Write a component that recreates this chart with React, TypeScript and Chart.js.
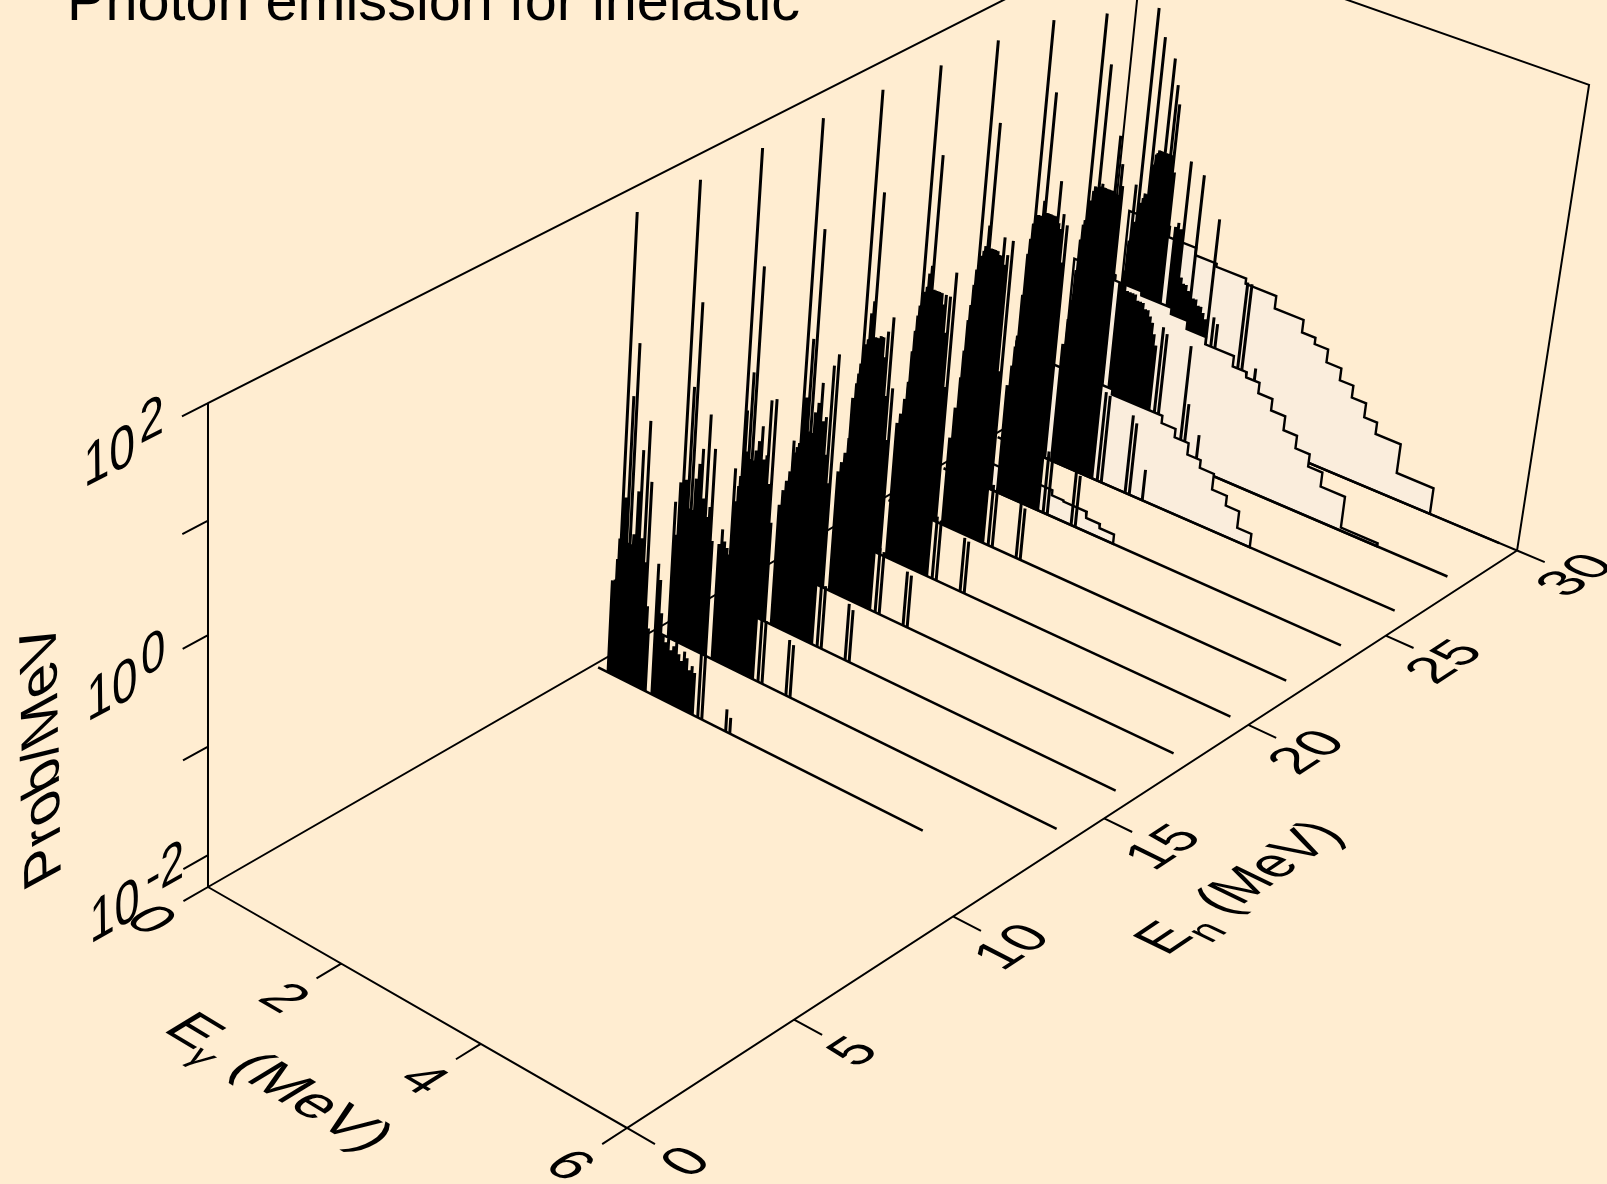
import React, { useEffect, useRef } from "react";
import { Chart, registerables } from "chart.js";

Chart.register(...registerables);

const W_PX = 1607;
const H_PX = 1184;
const BG = "#FFEDD1";
const PALE = "#FAEDDC";

// Incident neutron energies (MeV) of the waterfall traces, front to back
const incidentEnergies = [12, 14, 16, 18, 20, 22, 24, 26, 28, 30];
const baselineEnd = [4.76, 5.76, 5.76, 5.76, 5.76, 5.76, 5.76, 5.76, 5.76, 5.76];
const floorLog = -2.3;

// Photon lines, low group (MeV)
const lowLines = [0.22, 0.24, 0.26, 0.28, 0.3, 0.32, 0.34, 0.36, 0.38, 0.4, 0.43, 0.45, 0.48, 0.5, 0.52, 0.54, 0.56, 0.58, 0.6, 0.62, 0.64, 0.66, 0.68, 0.7, 0.72, 0.75, 0.78];
const lowLog12 = [-1.42, -1.6, -1.4, -1.2, -1.0, 1.95, -0.8, -0.6, -1.0, 0.34, -1.0, 0.83, -1.0, -0.9, -1.05, -0.49, -1.05, -0.1, -1.1, -0.9, -1.2, 0.19, -1.3, -1.1, -0.35, -1.5, -1.7];
const lowLog14 = [-1.0, -1.4, -1.3, -0.8, -1.2, 1.95, -1.0, -0.75, -1.0, 0.12, -1.0, 0.9, -1.0, -0.7, -1.0, -0.55, -1.05, -0.4, -1.05, -0.85, -1.1, -0.06, -1.15, -1.0, -0.9, -0.35, -1.2];
const lowLog16 = [-1.0, -1.4, -1.3, -1.15, -1.05, 1.95, -0.42, -0.8, -0.9, -0.05, -0.85, 0.93, -0.85, -0.75, -0.9, -0.65, -0.95, -0.5, -1.0, -0.8, -1.1, -0.75, -0.23, -1.2, -1.0, -0.2, -1.35];
const lowLog18 = [-1.05, -1.25, -1.15, -1.1, -1.05, 1.94, -0.95, -0.6, -0.9, -0.04, -0.9, 0.98, -0.9, -0.7, -0.85, -0.6, -0.8, -0.4, -0.77, -0.75, -0.95, -0.7, -1.05, -1.15, -0.2, -1.3, -0.08];
const lowLog20 = [-0.95, -0.95, -0.8, -0.7, -0.6, 1.92, -0.45, -0.4, -0.35, -0.1, 0.02, 1.03, -0.3, -0.3, -0.3, -0.3, -0.27, -0.27, -0.27, -0.45, -0.6, -0.2, -0.8, -0.95, -0.05, -1.2, -0.7];
const lowLog22 = [-1.1, -0.8, -0.6, -0.45, -0.35, 1.87, -0.25, -0.2, -0.15, -0.02, 0.06, 1.09, -0.15, -0.15, -0.15, -0.15, -0.15, -0.15, -0.15, -0.25, -0.35, -0.15, -0.5, -0.7, -0.15, -1.0, 0.09];
const lowLog24 = [-1.1, -0.8, -0.65, -0.45, -0.3, 1.83, -0.2, -0.15, -0.1, -0.05, 0.15, 1.11, -0.05, -0.05, -0.05, -0.05, -0.05, -0.05, -0.08, -0.08, -0.1, 0.1, -0.15, -0.3, -0.05, -1.15, 0.1];
const lowLog26 = [-1.3, -0.85, -0.45, -0.3, -0.15, 1.75, -0.1, -0.05, -0.05, -0.05, 0.1, 1.12, 0.0, 0.0, 0.0, 0.0, 0.0, 0.0, 0.0, -0.05, 0.34, -0.05, -0.1, -0.1, 0.05, -0.4, -0.04];
const lowLog28 = [-1.2, -0.9, -0.6, -0.45, -0.4, 1.55, -0.2, -0.22, -0.1, -0.05, -0.05, 1.11, -0.03, 0.0, -0.03, -0.03, -0.03, -0.03, -0.03, -0.03, -0.03, -0.03, 0.5, -0.05, -0.05, 0.25, 0.05];
const lowLog30 = [-1.2, -0.9, -0.35, -0.85, -0.7, 1.34, -0.7, -0.5, -0.45, -0.4, -0.4, 1.1, -0.1, 0.0, 0.02, 0.05, 0.05, 0.05, 0.05, 0.94, 0.05, 0.05, 0.05, 0.71, 0.05, 0.54, -0.1];
const lowLogs = [lowLog12, lowLog14, lowLog16, lowLog18, lowLog20, lowLog22, lowLog24, lowLog26, lowLog28, lowLog30];

// Photon lines, middle group (MeV)
const midLines = [0.88, 0.92, 0.96, 1.0, 1.04, 1.08, 1.12, 1.16, 1.2, 1.24, 1.28, 1.32, 1.36, 1.4, 1.44, 1.48];
const midLog12 = [-1.06, -1.2, -1.5, -1.7, -1.75, -1.7, -1.8, -1.75, -1.7, -1.8, -1.85, -1.75, -1.8, -1.9, -1.85, -1.9];
const midLog14 = [-1.2, -1.05, -1.15, -1.2, -1.25, -1.3, -1.3, -1.35, -1.35, -1.4, -1.4, -1.45, -1.45, -1.5, -1.5, -1.55];
const midLog16 = [-1.15, -1.0, -0.9, -0.8, -0.65, -0.55, -0.65, -0.7, -0.75, -0.8, -0.85, -0.9, -0.95, -1.0, -1.05, -1.15];
const midLog18 = [-1.15, -1.05, -0.95, -0.8, -0.65, -0.45, -0.35, -0.25, -0.3, -0.4, -0.45, -0.5, -0.6, -0.7, -0.8, -0.9];
const midLog20 = [-1.0, -0.9, -0.75, -0.6, -0.45, -0.25, -0.15, -0.1, -0.1, -0.25, -0.35, -0.45, -0.55, -0.65, -0.75, -0.85];
const midLog22 = [-1.45, -1.15, -0.85, -0.6, -0.4, -0.2, -0.1, 0.05, 0.1, -0.05, -0.2, -0.3, -0.45, -0.55, -0.65, -0.8];
const midLog24 = [-1.25, -1.05, -0.75, -0.5, -0.2, 0.05, 0.25, 0.0, -0.1, -0.2, -0.3, -0.4, -0.5, -0.6, -0.7, -0.85];
const midLog26 = [-1.15, -0.9, -0.65, -0.4, -0.15, -0.05, -0.1, -0.15, -0.2, -0.3, -0.4, -0.5, -0.6, -0.7, -0.8, -0.95];
const midLog28 = [-0.85, -0.8, -0.85, -0.9, -0.9, -0.9, -0.9, -0.95, -0.95, -0.95, -1.0, -1.0, -1.05, -1.1, -1.2, -1.3];
const midLog30 = [-0.6, -0.55, -0.6, 0.06, -1.05, -1.1, -1.1, -1.15, -0.02, -1.2, -1.2, -1.25, -1.25, -1.3, -1.35, -0.37];
const midLogs = [midLog12, midLog14, midLog16, midLog18, midLog20, midLog22, midLog24, midLog26, midLog28, midLog30];

// Photon lines, isolated high group (MeV); null = no line in that trace
const highLines = [1.56, 1.62, 1.97, 2.03, 2.22];
const highLog12 = [-1.65, -1.7, -2.09, -2.15, null];
const highLog14 = [-1.65, -1.7, -1.77, -1.8, null];
const highLog16 = [-1.67, -1.7, -1.76, -1.8, null];
const highLog18 = [-1.68, -1.7, -1.78, -1.8, null];
const highLog20 = [-1.7, -1.72, -1.78, -1.8, null];
const highLog22 = [-1.71, -1.73, -1.77, -1.8, null];
const highLog24 = [-1.7, -1.72, -1.78, -1.8, null];
const highLog26 = [-1.43, -1.45, -1.54, -1.6, -2.0];
const highLog28 = [-1.1, -1.15, -1.17, -1.72, -1.97];
const highLog30 = [-1.3, -1.35, -0.85, -0.85, -1.62];
const highLogs = [highLog12, highLog14, highLog16, highLog18, highLog20, highLog22, highLog24, highLog26, highLog28, highLog30];

// Continuum histograms: bin edges (MeV) and log10(prob/MeV) per bin
const contEdges24 = [0.2, 1.66, 1.83, 2.17, 2.37, 2.58];
const contLog24 = [-2.05, -2.1, -2.11, -2.17, -2.21];
const contEdges26 = [0.2, 1.64, 2.37, 2.57, 2.77, 2.96, 3.16, 3.37, 3.56, 3.76];
const contLog26 = [-1.38, -1.43, -1.5, -1.58, -1.69, -1.764, -1.916, -2.01, -2.17];
const contEdges28 = [0.2, 0.81, 1.2, 1.64, 1.88, 2.16, 2.57, 2.77, 2.96, 3.16, 3.36, 3.55, 3.75, 3.95, 4.29, 4.8];
const contLog28 = [-0.8, -0.85, -0.89, -0.95, -1.03, -1.1, -1.2, -1.25, -1.35, -1.46, -1.594, -1.715, -1.834, -1.97, -2.27];
const contEdges30 = [0.2, 0.8, 1.2, 1.51, 1.94, 2.38, 2.79, 2.98, 3.17, 3.38, 3.57, 3.77, 3.95, 4.3, 4.81];
const contLog30 = [-0.62, -0.72, -0.79, -0.82, -0.87, -0.99, -1.11, -1.17, -1.295, -1.41, -1.524, -1.66, -1.77, -2.05];
const continua: Record<number, { edges: number[]; logs: number[] }> = {
  24: { edges: contEdges24, logs: contLog24 },
  26: { edges: contEdges26, logs: contLog26 },
  28: { edges: contEdges28, logs: contLog28 },
  30: { edges: contEdges30, logs: contLog30 },
};

// Axis ticks
const enTicks = [0, 5, 10, 15, 20, 25, 30];
const egTicks = [0, 2, 4, 6];
const zMajor = [-2, 0, 2];
const zMinor = [-1, 1];
const zSup = ["-2", "0", "2"];
const EN_MAX = 30;
const EG_MAX = 6;
const Z_MAX = 2;

// View: homogeneous projection of (En, Egamma, log10 P)
function project(En: number, Eg: number, lg: number) {
  const u = En / 30;
  const v = Eg / 6;
  const s = lg - floorLog;
  const w = 1 + 0.1454 * u - 0.0679 * v - 0.01307 * s;
  return {
    x: (208 + 1050.2 * u + 376.4 * v - 2.72 * s) / w,
    y: (887 - 458.2 * u + 164.4 * v - 117.8 * s) / w,
  };
}

const GAP = { x: NaN, y: NaN };
type P3 = [number, number, number];
function segs(list: P3[][]) {
  const out: { x: number; y: number }[] = [];
  list.forEach((seg) => {
    seg.forEach((p) => out.push(project(p[0], p[1], p[2])));
    out.push(GAP);
  });
  out.pop();
  return out;
}

function lineSet(data: any, width: number) {
  return { data, showLine: true, borderColor: "#000", borderWidth: width, pointRadius: 0, pointHitRadius: 0, tension: 0, fill: false, borderCapStyle: "butt", borderJoinStyle: "miter" };
}

function buildDatasets() {
  const sets: any[] = [];
  incidentEnergies.forEach((En, i) => {
    const spikes: P3[][] = [];
    const add = (es: number[], ls: (number | null)[]) =>
      es.forEach((e, k) => {
        const l = ls[k];
        if (l !== null && l !== undefined) spikes.push([[En, e, floorLog], [En, e, l]]);
      });
    add(lowLines, lowLogs[i]);
    add(midLines, midLogs[i]);
    add(highLines, highLogs[i]);
    sets.push(lineSet(segs([[[En, 0.07, floorLog], [En, baselineEnd[i], floorLog]]]), 2.5));
    sets.push(lineSet(segs(spikes), 3));
    const c = continua[En];
    if (c) {
      const poly: P3[] = [[En, c.edges[0], floorLog]];
      c.logs.forEach((l, k) => {
        poly.push([En, c.edges[k], l]);
        poly.push([En, c.edges[k + 1], l]);
      });
      poly.push([En, c.edges[c.edges.length - 1], floorLog]);
      poly.push([En, c.edges[0], floorLog]);
      sets.push({
        ...lineSet(poly.map((p) => project(p[0], p[1], p[2])), 2.4),
        fill: "shape",
        backgroundColor: PALE,
      });
    }
  });
  const box: P3[][] = [
    [[0, 0, floorLog], [0, EG_MAX, floorLog], [EN_MAX, EG_MAX, floorLog], [EN_MAX, 0, floorLog], [0, 0, floorLog]],
    [[0, 0, floorLog], [0, 0, Z_MAX], [EN_MAX, 0, Z_MAX], [EN_MAX, EG_MAX, Z_MAX], [EN_MAX, EG_MAX, floorLog]],
    [[EN_MAX, 0, Z_MAX], [EN_MAX, 0, floorLog]],
  ];
  const ticks: P3[][] = [];
  enTicks.forEach((e) => ticks.push([[e, EG_MAX, floorLog], [e, EG_MAX * 1.062, floorLog]]));
  egTicks.forEach((g) => ticks.push([[0, g, floorLog], [-0.72, g, floorLog]]));
  zMajor.concat(zMinor).forEach((z) => ticks.push([[0, 0, z], [-0.72, 0, z]]));
  sets.push(lineSet(segs(box.concat(ticks)), 2));
  return sets;
}

function unit(a: { x: number; y: number }, b: { x: number; y: number }) {
  const dx = b.x - a.x;
  const dy = b.y - a.y;
  const l = Math.hypot(dx, dy);
  return { x: dx / l, y: dy / l };
}
type Axis = "en" | "eg" | "-en" | "-eg" | "z";
function axisDir(p: P3, a: Axis) {
  const q: P3 = [p[0], p[1], p[2]];
  if (a === "en") q[0] += 0.5;
  if (a === "-en") q[0] -= 0.5;
  if (a === "eg") q[1] += 0.1;
  if (a === "-eg") q[1] -= 0.1;
  if (a === "z") q[2] += 0.1;
  return unit(project(p[0], p[1], p[2]), project(q[0], q[1], q[2]));
}
type Run = { t: string; k?: number; dy?: number };
function planeText(ctx: CanvasRenderingContext2D, runs: Run[], p: P3, base: Axis, up: Axis, emBase: number, emUp: number) {
  const c = project(p[0], p[1], p[2]);
  const a = axisDir(p, base);
  const b = axisDir(p, up);
  ctx.save();
  ctx.translate(c.x, c.y);
  ctx.transform((a.x * emBase) / 100, (a.y * emBase) / 100, (-b.x * emUp) / 100, (-b.y * emUp) / 100, 0, 0);
  ctx.textBaseline = "alphabetic";
  ctx.textAlign = "left";
  ctx.fillStyle = "#000";
  let total = 0;
  const widths = runs.map((r) => {
    ctx.font = `${100 * (r.k ?? 1)}px "Liberation Sans"`;
    const w = ctx.measureText(r.t).width;
    total += w;
    return w;
  });
  const lead = runs[0].k ?? 1;
  let x = -total / 2;
  runs.forEach((r, i) => {
    ctx.font = `${100 * (r.k ?? 1)}px "Liberation Sans"`;
    ctx.fillText(r.t, x, 36 * lead + (r.dy ?? 0) * 100);
    x += widths[i];
  });
  ctx.restore();
}

const textPlugin = {
  id: "planeLabels",
  afterDatasetsDraw(chart: any) {
    const ctx: CanvasRenderingContext2D = chart.ctx;
    ctx.save();
    ctx.fillStyle = "#000";
    ctx.font = '57.6px "Liberation Sans"';
    ctx.textAlign = "left";
    ctx.textBaseline = "alphabetic";
    ctx.fillText("Photon emission for inelastic", 67, 20);
    ctx.restore();

    enTicks.forEach((e) => planeText(ctx, [{ t: String(e) }], [e, EG_MAX * 1.125, floorLog], "en", "-eg", 55, 56));
    egTicks.forEach((g) => planeText(ctx, [{ t: String(g) }], [-1.6, g, floorLog], "eg", "en", 55, 56));
    zMajor.forEach((z, i) => {
      const p: P3 = [-2.7, 0, z];
      planeText(ctx, [{ t: "10" }], p, "en", "z", 52, 60);
      const sup = zSup[i];
      const q: P3 = [p[0] + (sup.length > 1 ? 1.45 : 1.15), 0, z + 0.12];
      planeText(ctx, [{ t: sup, k: 0.95 }], q, "en", "z", 52, 60);
    });
    planeText(ctx, [{ t: "Prob/MeV" }], [-4.72, 0, -0.26], "z", "-en", 57.8, 60);
    planeText(ctx, [{ t: "E" }, { t: "γ", k: 0.65, dy: 0.24 }, { t: " (MeV)" }], [-3.67, 2.99, floorLog], "eg", "en", 60, 58);
    planeText(ctx, [{ t: "E" }, { t: "n", k: 0.75, dy: 0.28 }, { t: " (MeV)" }], [14.9, 7.77, floorLog], "en", "-eg", 53, 60);
  },
};

export default function App() {
  const ref = useRef<HTMLCanvasElement | null>(null);
  useEffect(() => {
    document.body.style.margin = "0";
    document.body.style.background = BG;
    const chart = new Chart(ref.current as HTMLCanvasElement, {
      type: "scatter",
      data: { datasets: buildDatasets() },
      plugins: [textPlugin],
      options: {
        animation: false,
        responsive: false,
        layout: { padding: 0 },
        events: [],
        plugins: { legend: { display: false }, tooltip: { enabled: false }, title: { display: false } },
        scales: {
          x: { type: "linear", display: false, min: 0, max: W_PX },
          y: { type: "linear", display: false, min: 0, max: H_PX, reverse: true },
        },
      },
    } as any);
    return () => chart.destroy();
  }, []);
  return (
    <div style={{ width: W_PX, height: H_PX, background: BG, overflow: "hidden" }}>
      <canvas ref={ref} width={W_PX} height={H_PX} style={{ display: "block" }} />
    </div>
  );
}
